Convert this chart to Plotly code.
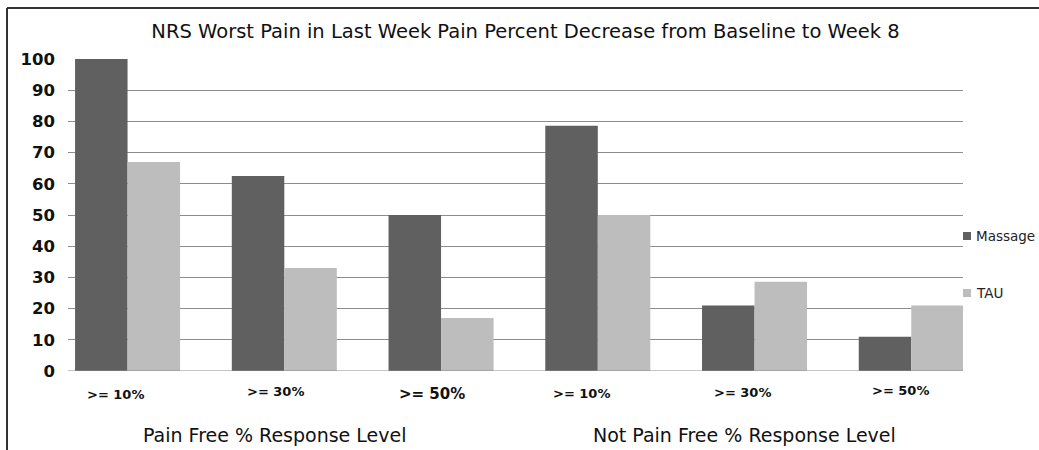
import plotly.graph_objects as go

categories = [">= 10%", ">= 30%", ">= 50%", ">= 10%", ">= 30%", ">= 50%"]
groups = ["Pain Free % Response Level", "Not Pain Free % Response Level"]
massage = [100, 62.5, 50, 78.6, 21, 11]
tau = [67, 33, 17, 50, 28.6, 21]
series_names = ["Massage", "TAU"]
colors = ["#606060", "#bdbdbd"]
title = "NRS Worst Pain in Last Week Pain Percent Decrease from Baseline to Week 8"

W, H = 1039, 450
L, R, T, B = 68, 963, 59, 371

def px(x):
    return (x - L) / (R - L)

def py(y):
    return (B - y) / (B - T)

xs = list(range(len(categories)))
fig = go.Figure()
for name, vals, col in zip(series_names, [massage, tau], colors):
    fig.add_trace(go.Bar(x=xs, y=vals, name=name, marker=dict(color=col, line=dict(width=0)),
                         showlegend=False))

FONT = "DejaVu Sans"
fig.update_layout(
    width=W, height=H,
    margin=dict(l=L, r=W - R, t=T, b=H - B),
    paper_bgcolor="white", plot_bgcolor="white",
    barmode="group", bargap=0.33, bargroupgap=0,
    font=dict(family=FONT, color="#111"),
    title=dict(text=title, x=525.5 / W, xanchor="center", xref="container",
               y=1 - 31 / H, yanchor="middle", yref="container",
               font=dict(family=FONT, size=19.5, color="#111")),
    xaxis=dict(range=[-0.38, 5.33], showticklabels=False, showgrid=False, zeroline=False,
               showline=False, ticks=""),
    yaxis=dict(range=[0, 100], tickvals=list(range(0, 101, 10)), showgrid=True,
               gridcolor="#8c8c8c", gridwidth=1, zeroline=False, showline=False,
               ticks="", ticklabelstandoff=12,
               tickfont=dict(family=FONT, size=16.5, color="#111", weight="bold")),
)

# baseline
fig.add_shape(type="line", xref="paper", yref="y", x0=0, x1=1, y0=0, y1=0,
              line=dict(color="#8c8c8c", width=1))

# category labels (small per-label nudges to match the original placement)
label_dx = [-12, -9, -9, -16, -12, -11]
label_y = [394, 391, 394, 393, 392, 390]
for i, c in enumerate(categories):
    big = (i == 2)
    fig.add_annotation(x=i, xref="x", y=py(label_y[i]), yref="paper", xshift=label_dx[i],
                       text=f"<b>{c}</b>", showarrow=False, xanchor="center", yanchor="middle",
                       font=dict(family=FONT, size=15 if big else 13, color="#111"))

# group labels
for gx, g in zip([275, 744], groups):
    fig.add_annotation(x=px(gx), xref="paper", y=py(435), yref="paper", text=g,
                       showarrow=False, xanchor="center", yanchor="middle",
                       font=dict(family=FONT, size=19, color="#111"))

# legend (manual)
for (name, col, ly) in zip(series_names, colors, [236, 293]):
    fig.add_shape(type="rect", xref="paper", yref="paper",
                  x0=px(963), x1=px(971), y0=py(ly + 4), y1=py(ly - 4),
                  fillcolor=col, line=dict(width=0))
    fig.add_annotation(x=px(974), xref="paper", y=py(ly), yref="paper", text=name,
                       showarrow=False, xanchor="left", yanchor="middle",
                       font=dict(family=FONT, size=13.5, color="#222"))

# frame (top and left border)
fig.add_shape(type="line", xref="paper", yref="paper", x0=px(7), x1=px(W + 5),
              y0=py(8), y1=py(8), line=dict(color="#333", width=2))
fig.add_shape(type="line", xref="paper", yref="paper", x0=px(7), x1=px(7),
              y0=py(8), y1=py(H + 5), line=dict(color="#333", width=2))

fig.write_html("out.html", config={"displayModeBar": False},
               post_script="document.body.style.margin='0';")
